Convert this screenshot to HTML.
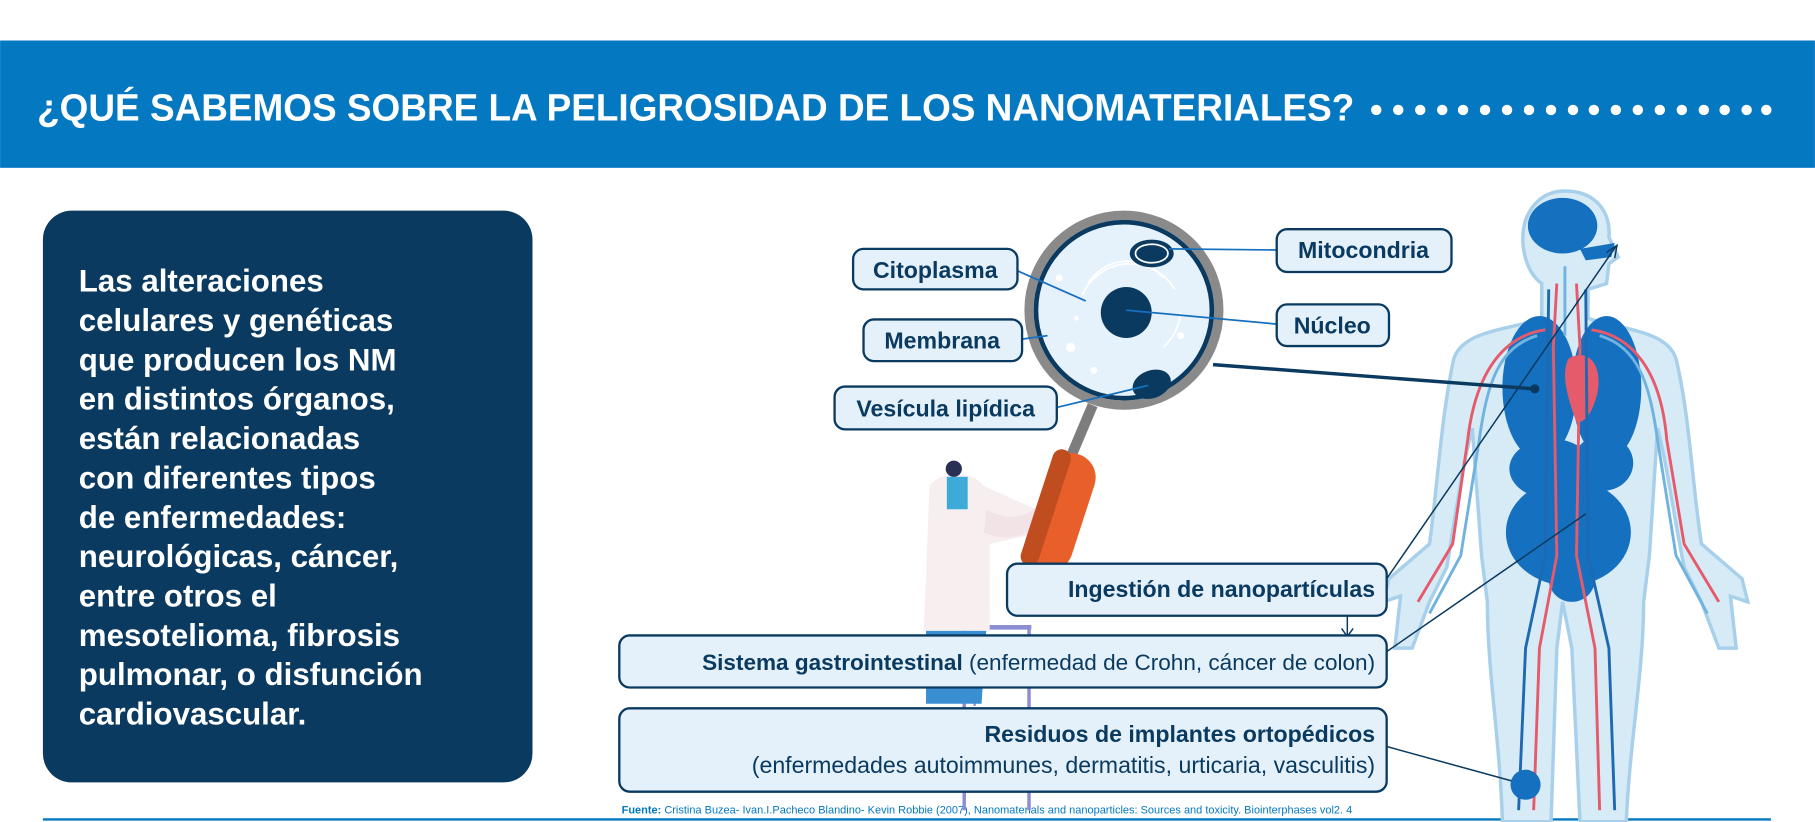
<!DOCTYPE html>
<html><head><meta charset="utf-8"><style>
html,body{margin:0;padding:0;background:#fff;}
svg{display:block;}
text{font-family:"Liberation Sans",sans-serif;}
</style></head><body>
<svg width="1815" height="822" viewBox="0 0 1568 710.2" xmlns="http://www.w3.org/2000/svg">
<rect x="0" y="0" width="1568" height="710.2" fill="#fff"/>
<!-- banner -->
<rect x="0" y="35" width="1568" height="110" fill="#0478c1"/>
<text x="32" y="104" font-size="33" font-weight="bold" fill="#fff" textLength="1138" lengthAdjust="spacingAndGlyphs">¿QUÉ SABEMOS SOBRE LA PELIGROSIDAD DE LOS NANOMATERIALES?</text>
<g fill="#fff">
<circle cx="1189" cy="95" r="4.5"/><circle cx="1208" cy="95" r="4.5"/><circle cx="1227" cy="95" r="4.5"/><circle cx="1246" cy="95" r="4.5"/><circle cx="1264" cy="95" r="4.5"/><circle cx="1283" cy="95" r="4.5"/><circle cx="1302" cy="95" r="4.5"/><circle cx="1321" cy="95" r="4.5"/><circle cx="1340" cy="95" r="4.5"/><circle cx="1359" cy="95" r="4.5"/><circle cx="1377" cy="95" r="4.5"/><circle cx="1396" cy="95" r="4.5"/><circle cx="1415" cy="95" r="4.5"/><circle cx="1434" cy="95" r="4.5"/><circle cx="1453" cy="95" r="4.5"/><circle cx="1472" cy="95" r="4.5"/><circle cx="1490" cy="95" r="4.5"/><circle cx="1509" cy="95" r="4.5"/><circle cx="1526" cy="95" r="4.5"/>
</g>
<!-- left box -->
<rect x="37" y="182" width="423" height="494" rx="25" fill="#0a3a60"/>
<g font-size="27" font-weight="bold" fill="#fff">
<text x="68" y="252">Las alteraciones</text>
<text x="68" y="286">celulares y genéticas</text>
<text x="68" y="320">que producen los NM</text>
<text x="68" y="354">en distintos órganos,</text>
<text x="68" y="388">están relacionadas</text>
<text x="68" y="422">con diferentes tipos</text>
<text x="68" y="456">de enfermedades:</text>
<text x="68" y="490">neurológicas, cáncer,</text>
<text x="68" y="524">entre otros el</text>
<text x="68" y="558">mesotelioma, fibrosis</text>
<text x="68" y="592">pulmonar, o disfunción</text>
<text x="68" y="626">cardiovascular.</text>
</g>
<!-- bottom rule & source -->
<line x1="37" y1="708" x2="1530" y2="708" stroke="#0478c1" stroke-width="2"/>
<text x="537" y="703" font-size="9.5" fill="#0478c1"><tspan font-weight="bold">Fuente:</tspan> Cristina Buzea- Ivan.I.Pacheco Blandino- Kevin Robbie (2007), Nanomaterials and nanoparticles: Sources and toxicity. Biointerphases vol2. 4</text>

<!-- human body -->
<g>
<path d="M1352,165 C1380,165 1392,185 1390,205 L1398,222 L1390,228 L1388,245 L1372,250 L1372,275 C1400,285 1440,285 1448,310 C1460,360 1462,420 1470,470 L1505,500 L1510,520 L1495,515 L1500,560 L1485,560 L1470,520 L1455,490 C1445,440 1440,400 1432,370 L1425,480 L1420,520 C1420,580 1408,640 1405,710 L1365,710 L1358,560 L1350,520 L1345,560 L1340,710 L1298,710 C1296,640 1285,580 1285,520 L1280,480 L1272,370 C1264,400 1258,440 1250,490 L1235,520 L1220,560 L1205,560 L1210,515 L1195,520 L1200,500 L1235,470 C1242,420 1245,360 1256,310 C1264,285 1305,285 1332,275 L1332,245 C1318,235 1312,210 1318,190 C1325,172 1338,165 1352,165 Z" fill="#d7ebf7" stroke="#a9d0ea" stroke-width="3"/>
<ellipse cx="1350" cy="195" rx="30" ry="24" fill="#1670c0"/>
<path d="M1365,215 L1395,210 L1392,222 L1370,225 Z" fill="#1670c0"/>
<ellipse cx="1330" cy="335" rx="32" ry="62" fill="#1670c0"/>
<ellipse cx="1388" cy="335" rx="30" ry="62" fill="#1670c0"/>
<path d="M1355,310 C1372,300 1385,315 1380,340 C1375,360 1368,365 1362,365 C1355,345 1348,325 1355,310 Z" fill="#e55b6c"/>
<ellipse cx="1340" cy="405" rx="36" ry="26" fill="#1670c0"/>
<ellipse cx="1385" cy="400" rx="26" ry="24" fill="#1670c0"/>
<ellipse cx="1355" cy="460" rx="54" ry="46" fill="#1670c0"/>
<ellipse cx="1358" cy="500" rx="20" ry="20" fill="#1670c0"/>
<g fill="none" stroke-width="2.5">
<path d="M1345,245 L1342,300 L1345,480 L1330,560 L1325,700" stroke="#e55b6c"/>
<path d="M1362,245 L1365,300 L1362,480 L1378,560 L1382,700" stroke="#e55b6c"/>
<path d="M1335,285 C1300,290 1275,320 1268,380 L1255,470 L1225,520" stroke="#e55b6c"/>
<path d="M1375,285 C1410,290 1435,320 1440,380 L1455,470 L1485,520" stroke="#e55b6c"/>
<path d="M1338,250 L1335,480 L1318,560 L1312,700" stroke="#1f69b1"/>
<path d="M1370,250 L1372,480 L1390,560 L1395,700" stroke="#1f69b1"/>
<path d="M1328,290 C1295,300 1285,330 1278,380 L1262,480 L1235,530" stroke="#6fb3de"/>
<path d="M1382,290 C1415,300 1425,330 1432,380 L1448,480 L1475,530" stroke="#6fb3de"/>
<path d="M1352,230 L1352,290" stroke="#6fb3de"/>
</g>
</g>

<!-- scientist -->
<g>
<rect x="831" y="540" width="60" height="4" fill="#8c8ed4"/>
<line x1="833" y1="540" x2="833" y2="700" stroke="#8c8ed4" stroke-width="3"/>
<line x1="889" y1="540" x2="889" y2="700" stroke="#8c8ed4" stroke-width="3"/>
<line x1="842" y1="545" x2="842" y2="610" stroke="#8c8ed4" stroke-width="2"/>
<path d="M800,545 L852,545 L848,608 L800,608 Z" fill="#3a8fd3"/>
<path d="M803,420 C810,408 840,405 850,420 L895,440 L900,460 L855,470 L855,545 L798,545 Z" fill="#f7eef0"/>
<rect x="818" y="412" width="18" height="28" fill="#3eaad8"/>
<circle cx="824" cy="405" r="7" fill="#2a2f55"/>
<path d="M852,440 C870,450 885,450 905,430 L912,440 C895,462 870,470 850,460 Z" fill="#f2e3e6"/>
</g>

<!-- magnifier -->
<line x1="944" y1="350" x2="925" y2="395" stroke="#7d7d7d" stroke-width="9"/>
<rect x="895" y="390" width="42" height="105" rx="21" fill="#e85f2a" transform="rotate(18 916 442)"/>
<rect x="895" y="390" width="16" height="105" rx="8" fill="#c04d20" transform="rotate(18 916 442)"/>
<circle cx="971" cy="268" r="82" fill="none" stroke="#8a8a8a" stroke-width="8"/>
<circle cx="971" cy="268" r="76" fill="#e6f2fb" stroke="#0a3a60" stroke-width="4"/>
<g fill="none" stroke="#fff" stroke-width="1.5">
<path d="M940,245 A40,40 0 0 1 1005,240"/>
<path d="M935,255 A45,45 0 0 1 1015,250"/>
<path d="M1005,300 A45,45 0 0 0 1020,270"/>
</g>
<g fill="#fff"><circle cx="915" cy="240" r="3"/><circle cx="925" cy="300" r="4"/><circle cx="945" cy="320" r="3"/><circle cx="1020" cy="290" r="3"/><circle cx="930" cy="275" r="2"/></g>
<circle cx="973" cy="270" r="22" fill="#0a3a60"/>
<ellipse cx="995" cy="219" rx="19" ry="12" fill="#0a3a60"/>
<ellipse cx="995" cy="219" rx="14" ry="8" fill="none" stroke="#fff" stroke-width="1.5"/>
<ellipse cx="995" cy="332" rx="17" ry="12" fill="#0a3a60" transform="rotate(-20 995 332)"/>

<!-- connectors -->
<g stroke="#1670c0" stroke-width="1.5" fill="none">
<line x1="879" y1="234" x2="938" y2="260"/>
<line x1="883" y1="293" x2="905" y2="290"/>
<line x1="913" y1="352" x2="992" y2="333"/>
<line x1="1103" y1="216" x2="1010" y2="215"/>
<line x1="1103" y1="280" x2="973" y2="268"/>
</g>
<line x1="1048" y1="315" x2="1326" y2="336" stroke="#0a3a60" stroke-width="3"/>
<circle cx="1326" cy="336" r="4" fill="#0a3a60"/>
<g stroke="#0a3a60" stroke-width="1.3" fill="none">
<line x1="1198" y1="500" x2="1396" y2="213"/>
<path d="M1388,218 L1397,212 L1395,223" />
<line x1="1198" y1="563" x2="1370" y2="444"/>
<line x1="1198" y1="645" x2="1318" y2="678"/>
<line x1="1164" y1="522" x2="1164" y2="549"/>
<path d="M1159,543 L1164,550 L1169,543"/>
</g>
<circle cx="1318" cy="678" r="13" fill="#1670c0"/>
<circle cx="1164" cy="522" r="1.5" fill="#0a3a60"/>

<!-- label boxes -->
<g fill="#e4f1fa" stroke="#0a3a60" stroke-width="2">
<rect x="737" y="215" width="142" height="35" rx="9"/>
<rect x="746" y="276" width="137" height="36" rx="9"/>
<rect x="721" y="334" width="192" height="37" rx="9"/>
<rect x="1103" y="198" width="151" height="37" rx="9"/>
<rect x="1103" y="263" width="97" height="36" rx="9"/>
<rect x="870" y="487" width="328" height="45" rx="9"/>
<rect x="535" y="549" width="663" height="45" rx="9"/>
<rect x="535" y="612" width="663" height="72" rx="9"/>
</g>
<g fill="#0a3a60" font-size="20" font-weight="bold" text-anchor="middle">
<text x="808" y="240">Citoplasma</text>
<text x="814" y="301">Membrana</text>
<text x="817" y="360">Vesícula lipídica</text>
<text x="1178" y="223">Mitocondria</text>
<text x="1151" y="288">Núcleo</text>
</g>
<text x="1188" y="516" font-size="20" font-weight="bold" fill="#0a3a60" text-anchor="end">Ingestión de nanopartículas</text>
<text x="1188" y="579" font-size="19.5" fill="#0a3a60" text-anchor="end"><tspan font-weight="bold">Sistema gastrointestinal</tspan> (enfermedad de Crohn, cáncer de colon)</text>
<text x="1188" y="641" font-size="20" font-weight="bold" fill="#0a3a60" text-anchor="end">Residuos de implantes ortopédicos</text>
<text x="1188" y="668" font-size="20" fill="#0a3a60" text-anchor="end">(enfermedades autoimmunes, dermatitis, urticaria, vasculitis)</text>
</svg>
</body></html>
